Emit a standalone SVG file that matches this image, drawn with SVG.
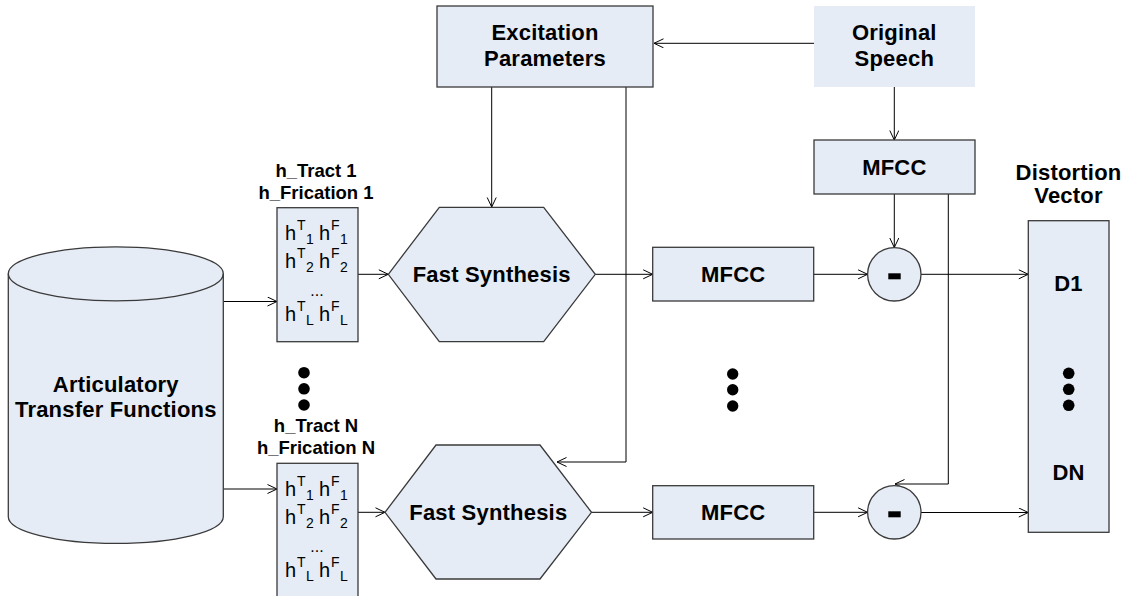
<svg xmlns="http://www.w3.org/2000/svg" width="1133" height="596" viewBox="0 0 1133 596">
<defs>
<style>
.box{fill:#E5ECF6;stroke:#3a3a3a;stroke-width:1.3}
.nob{fill:#E5ECF6;stroke:none}
.lbl{font-family:"Liberation Sans",Arial,sans-serif;font-weight:bold;font-size:22px;letter-spacing:0.2px;fill:#000;text-anchor:middle}
.sm{font-family:"Liberation Sans",Arial,sans-serif;font-weight:bold;font-size:18.5px;fill:#000;text-anchor:middle}
.h{font-family:"Liberation Sans",Arial,sans-serif;font-size:20px;fill:#000}
.s{font-family:"Liberation Sans",Arial,sans-serif;font-size:14px;fill:#000}
.ln{fill:none;stroke:#000;stroke-width:1}
.dot{fill:#000}
</style>
<marker id="ah" markerUnits="userSpaceOnUse" markerWidth="12" markerHeight="12" viewBox="0 0 12 12" refX="10" refY="5" orient="auto">
<path d="M0.5,0.5 L10,5 L0.5,9.5" fill="none" stroke="#000" stroke-width="1"/>
</marker>
</defs>

<g id="connectors">
<line class="ln" x1="814" y1="43.3" x2="654" y2="43.3" marker-end="url(#ah)"/>
<line class="ln" x1="491.7" y1="87" x2="491.7" y2="207" marker-end="url(#ah)"/>
<polyline class="ln" points="626,87 626,462 557,462" marker-end="url(#ah)"/>
<line class="ln" x1="894.3" y1="87" x2="894.3" y2="140" marker-end="url(#ah)"/>
<line class="ln" x1="894.3" y1="194" x2="894.3" y2="247.5" marker-end="url(#ah)"/>
<polyline class="ln" points="948.3,194 948.3,484 895,484" marker-end="url(#ah)"/>
<line class="ln" x1="223.5" y1="301.5" x2="277" y2="301.5" marker-end="url(#ah)"/>
<line class="ln" x1="223.5" y1="489" x2="277" y2="489" marker-end="url(#ah)"/>
<line class="ln" x1="358" y1="274.3" x2="388.3" y2="274.3" marker-end="url(#ah)"/>
<line class="ln" x1="358" y1="512.3" x2="385" y2="512.3" marker-end="url(#ah)"/>
<line class="ln" x1="595.3" y1="274.3" x2="652.7" y2="274.3" marker-end="url(#ah)"/>
<line class="ln" x1="591.5" y1="512.3" x2="652.7" y2="512.3" marker-end="url(#ah)"/>
<line class="ln" x1="813.7" y1="274.3" x2="867.6" y2="274.3" marker-end="url(#ah)"/>
<line class="ln" x1="813.7" y1="512.3" x2="867.6" y2="512.3" marker-end="url(#ah)"/>
<line class="ln" x1="921" y1="274.3" x2="1028.3" y2="274.3" marker-end="url(#ah)"/>
<line class="ln" x1="921" y1="512.5" x2="1028.3" y2="512.5" marker-end="url(#ah)"/>
</g>

<g id="excitation">
<rect class="box" x="437" y="6" width="216" height="81"/>
<text class="lbl" x="545" y="40">Excitation</text>
<text class="lbl" x="545" y="66">Parameters</text>
</g>

<g id="original-speech">
<rect class="nob" x="814" y="6" width="161" height="81"/>
<text class="lbl" x="894.3" y="40">Original</text>
<text class="lbl" x="894.3" y="66">Speech</text>
</g>

<g id="mfcc-top">
<rect class="box" x="814" y="140" width="161" height="54"/>
<text class="lbl" x="894.3" y="175">MFCC</text>
</g>

<g id="database">
<path class="box" d="M8.3,273.8 L8.3,516.7 A107.5,26.7 0 0 0 223.3,516.7 L223.3,273.8 A107.5,27 0 0 0 8.3,273.8 Z"/>
<path class="box" style="fill:none" d="M8.3,273.8 A107.5,27 0 0 0 223.3,273.8"/>
<text class="lbl" x="115.8" y="391.7">Articulatory</text>
<text class="lbl" x="115.8" y="416.7">Transfer Functions</text>
</g>

<g id="hlist-1">
<text class="sm" x="316" y="176.7">h_Tract 1</text>
<text class="sm" x="316" y="199">h_Frication 1</text>
<rect class="box" x="277" y="207.7" width="81" height="134"/>
<g>
<text class="h" x="285" y="240">h</text><text class="s" x="297" y="230">T</text><text class="s" x="306" y="244">1</text>
<text class="h" x="319" y="240">h</text><text class="s" x="331" y="230">F</text><text class="s" x="340" y="244">1</text>
<text class="h" x="285" y="268">h</text><text class="s" x="297" y="258">T</text><text class="s" x="306" y="272">2</text>
<text class="h" x="319" y="268">h</text><text class="s" x="331" y="258">F</text><text class="s" x="340" y="272">2</text>
<text class="h" x="317" y="296" text-anchor="middle" style="font-size:16px">...</text>
<text class="h" x="285" y="321">h</text><text class="s" x="297" y="311">T</text><text class="s" x="306" y="325">L</text>
<text class="h" x="319" y="321">h</text><text class="s" x="331" y="311">F</text><text class="s" x="340" y="325">L</text>
</g>
</g>

<g id="hlist-n">
<text class="sm" x="316" y="432">h_Tract N</text>
<text class="sm" x="316" y="454">h_Frication N</text>
<rect class="box" x="277" y="463.3" width="81" height="140"/>
<g transform="translate(0,255.6)">
<text class="h" x="285" y="240">h</text><text class="s" x="297" y="230">T</text><text class="s" x="306" y="244">1</text>
<text class="h" x="319" y="240">h</text><text class="s" x="331" y="230">F</text><text class="s" x="340" y="244">1</text>
<text class="h" x="285" y="268">h</text><text class="s" x="297" y="258">T</text><text class="s" x="306" y="272">2</text>
<text class="h" x="319" y="268">h</text><text class="s" x="331" y="258">F</text><text class="s" x="340" y="272">2</text>
<text class="h" x="317" y="296" text-anchor="middle" style="font-size:16px">...</text>
<text class="h" x="285" y="321">h</text><text class="s" x="297" y="311">T</text><text class="s" x="306" y="325">L</text>
<text class="h" x="319" y="321">h</text><text class="s" x="331" y="311">F</text><text class="s" x="340" y="325">L</text>
</g>
</g>

<g id="dots-left">
<circle class="dot" cx="304" cy="372.7" r="5.8"/>
<circle class="dot" cx="304" cy="388.8" r="5.8"/>
<circle class="dot" cx="304" cy="405" r="5.8"/>
</g>

<g id="fast-synthesis-1">
<polygon class="box" points="388.3,274.3 439.3,207.3 543.7,207.3 595.3,274.3 543.7,341.7 439.3,341.7"/>
<text class="lbl" x="491.7" y="281.5">Fast Synthesis</text>
</g>

<g id="fast-synthesis-n">
<polygon class="box" points="385,512.3 436,445 540,445 591.5,512.3 540,579 436,579"/>
<text class="lbl" x="488.3" y="519.5">Fast Synthesis</text>
</g>

<g id="mfcc-1">
<rect class="box" x="652.7" y="247.3" width="161" height="53.7"/>
<text class="lbl" x="733.2" y="282">MFCC</text>
</g>

<g id="mfcc-n">
<rect class="box" x="652.7" y="485.7" width="161" height="53.3"/>
<text class="lbl" x="733.2" y="520">MFCC</text>
</g>

<g id="dots-mid">
<circle class="dot" cx="732.7" cy="374" r="5.7"/>
<circle class="dot" cx="732.7" cy="389.8" r="5.7"/>
<circle class="dot" cx="732.7" cy="406" r="5.7"/>
</g>

<g id="sub-1">
<circle class="box" cx="894.3" cy="274.3" r="26.7"/>
<rect x="888.3" y="273.3" width="12.4" height="6" fill="#000"/>
</g>

<g id="sub-n">
<circle class="box" cx="894.3" cy="512.3" r="26.7"/>
<rect x="888.3" y="511.3" width="12.4" height="6" fill="#000"/>
</g>

<g id="distortion">
<text class="lbl" x="1068.5" y="180">Distortion</text>
<text class="lbl" x="1068.5" y="203.3">Vector</text>
<rect class="box" x="1028.3" y="220.7" width="80.7" height="311.6"/>
<text class="lbl" x="1068.5" y="290.5">D1</text>
<circle class="dot" cx="1068.7" cy="373.3" r="5.8"/>
<circle class="dot" cx="1068.7" cy="389.3" r="5.8"/>
<circle class="dot" cx="1068.7" cy="405.3" r="5.8"/>
<text class="lbl" x="1068.5" y="479.5">DN</text>
</g>
</svg>
